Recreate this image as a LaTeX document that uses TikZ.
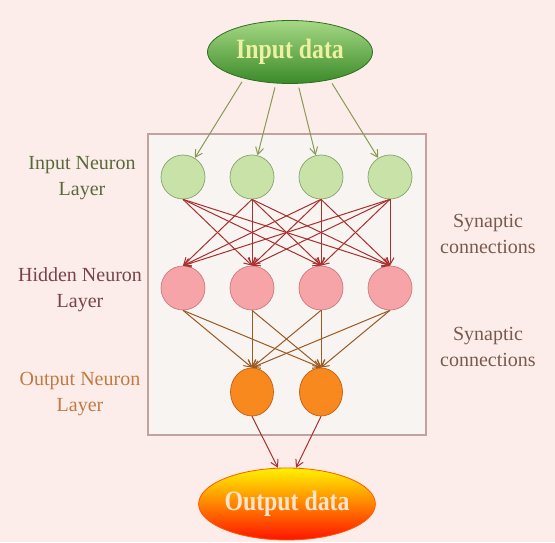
\documentclass[tikz,border=0pt]{standalone}
\usepackage{fontspec}
\setmainfont{Liberation Serif}
\usepackage{tikz}
\usetikzlibrary{arrows.meta,shapes.geometric}

\definecolor{bgpink}{HTML}{FCEDEA}
\definecolor{boxfill}{HTML}{F7F4F2}
\definecolor{boxline}{HTML}{C2A2A0}
\definecolor{inFill}{HTML}{C8E2A8}
\definecolor{inLine}{HTML}{86A46A}
\definecolor{hidFill}{HTML}{F6A4A8}
\definecolor{hidLine}{HTML}{C87C7E}
\definecolor{outFill}{HTML}{F7891E}
\definecolor{outLine}{HTML}{C45E10}
\definecolor{inText}{HTML}{596A3A}
\definecolor{hidText}{HTML}{7A4249}
\definecolor{outText}{HTML}{C27A42}
\definecolor{synText}{HTML}{7A5A4E}
\definecolor{greenArrow}{HTML}{8A9A52}
\definecolor{redArrow}{HTML}{A8302E}
\definecolor{brownArrow}{HTML}{9C5A22}
\definecolor{ovalTop}{HTML}{A6D884}
\definecolor{ovalMid}{HTML}{62B040}
\definecolor{ovalBot}{HTML}{3A8A28}
\definecolor{ovalText}{HTML}{EEF1A2}

\begin{document}
\begin{tikzpicture}[x=1pt,y=1pt,
    neuron/.style={circle,minimum size=44pt,inner sep=0pt,line width=0.7pt},
    dataoval/.style={ellipse,inner sep=0pt,line width=0.8pt,
      font=\fontsize{28}{30}\selectfont\bfseries},
    layertext/.style={align=center,font=\fontsize{20}{26}\selectfont},
    synarrow/.style={-{Straight Barb[length=7pt,width=8pt]},line width=1pt}]

  \useasboundingbox (0,0) rectangle (555,542);
  \fill[bgpink] (0,0) rectangle (555,542);

  % network frame
  \draw[boxline, fill=boxfill, line width=1.2pt] (148,107) rectangle (426,408);

  % input / output data
  \node[dataoval, minimum width=165pt, minimum height=63pt,
        top color=ovalTop, middle color=ovalMid, bottom color=ovalBot,
        draw=ovalBot!80!black]
        (indata) at (290,490) {\scalebox{0.85}[1]{\color{ovalText}Input data}};
  \node[dataoval, minimum width=163pt, minimum height=72pt,
        top color=yellow!90!orange, middle color=orange, bottom color=red!85!orange,
        draw=orange!70!red]
        (outdata) at (287,38) {\scalebox{0.85}[1]{\color{orange!20!white}Output data}};

  % neuron layers
  \foreach \x [count=\i] in {183,252,321,390} {
    \node[neuron, fill=inFill, draw=inLine] (i\i) at (\x,365) {};
    \node[neuron, fill=hidFill, draw=hidLine] (h\i) at (\x,254) {};
  }
  \node[neuron, ellipse, minimum width=43pt, minimum height=48pt,
        fill=outFill, draw=outLine] (o1) at (252,150) {};
  \node[neuron, ellipse, minimum width=43pt, minimum height=48pt,
        fill=outFill, draw=outLine] (o2) at (321,150) {};

  % input data -> input layer
  \foreach \a [count=\i] in {210,246,284,325}
    \draw[synarrow, greenArrow, shorten <=4pt] (indata.\a) -- (i\i);

  % input layer -> hidden layer
  \foreach \i in {1,...,4}
    \foreach \j in {1,...,4} {
      \ifnum\i\j=11 \else
        \draw[synarrow, redArrow] (i\i.south) -- (h\j.north);
      \fi
    }

  % hidden layer -> output layer
  \foreach \i in {1,...,4}
    \foreach \j in {1,2}
      \draw[synarrow, brownArrow] (h\i.south) -- (o\j.north);

  % output layer -> output data
  \draw[synarrow, redArrow] (o1.south) -- (outdata.104);
  \draw[synarrow, redArrow] (o2.south) -- (outdata.76);

  % labels
  \node[layertext, text=inText] (inlabel) at (82,364) {Input Neuron\\Layer};
  \node[layertext, text=hidText] (hidlabel) at (80,252) {Hidden Neuron\\Layer};
  \node[layertext, text=outText] (outlabel) at (80,148) {Output Neuron\\Layer};
  \node[layertext, text=synText] (syn1) at (488,308) {Synaptic\\connections};
  \node[layertext, text=synText] (syn2) at (488,195) {Synaptic\\connections};

\end{tikzpicture}
\end{document}
